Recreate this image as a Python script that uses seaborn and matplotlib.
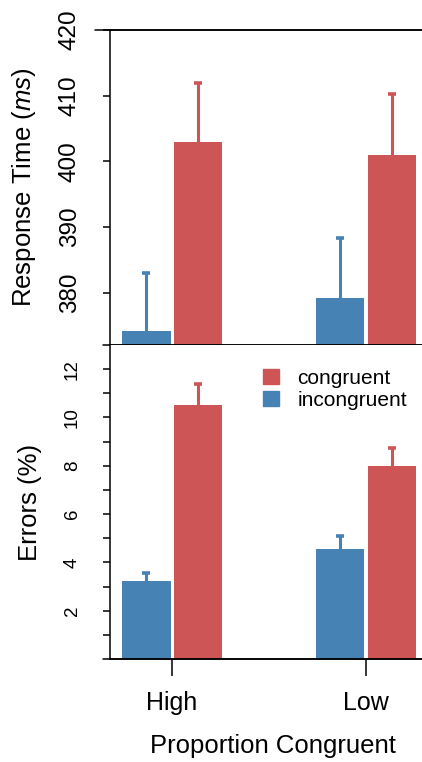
import pandas as pd
import numpy as np
from matplotlib import pyplot as plt
from matplotlib.patches import Patch
from matplotlib.lines import Line2D
import seaborn as sns

groups = ['High', 'Low']
conditions = ['incongruent', 'congruent']
colors = {'incongruent': '#4682B4', 'congruent': '#CD5555'}

# response time (ms), bar height and upper error
rt_incongruent = [374.1, 379.1]
rt_congruent = [403.0, 401.0]
rt_err_incongruent = [8.9, 9.2]
rt_err_congruent = [9.0, 9.3]

# errors (%)
er_incongruent = [3.22, 4.57]
er_congruent = [10.5, 8.0]
er_err_incongruent = [0.33, 0.54]
er_err_congruent = [0.89, 0.75]

sns.set_theme(style='white')
plt.rcParams['font.family'] = ['Liberation Sans', 'DejaVu Sans']
plt.rcParams['mathtext.fontset'] = 'custom'
plt.rcParams['mathtext.rm'] = 'Liberation Sans'
plt.rcParams['mathtext.it'] = 'Liberation Sans:italic'
for k in ['text.color', 'axes.labelcolor', 'xtick.color', 'ytick.color']:
    plt.rcParams[k] = 'black'


def make_df(inc, con):
    return pd.DataFrame({
        'group': groups * 2,
        'condition': ['incongruent'] * 2 + ['congruent'] * 2,
        'value': list(inc) + list(con),
    })


fig = plt.figure(figsize=(4.22, 7.62), dpi=100)
W = 325 / 422
ax1 = fig.add_axes([110 / 422, 1 - 345 / 762, W, 315 / 762])
ax2 = fig.add_axes([110 / 422, 1 - 659 / 762, W, 314 / 762])


def draw(ax, df, errs):
    sns.barplot(data=df, x='group', y='value', hue='condition', hue_order=conditions,
                palette=colors, width=0.53, gap=0.06, errorbar=None, saturation=1,
                linewidth=0, legend=False, ax=ax)
    for cont, cond in zip(ax.containers, conditions):
        for bar, e in zip(cont, errs[cond]):
            x = bar.get_x() + bar.get_width() / 2
            eb = ax.errorbar(x, bar.get_height(), yerr=[[0], [e]], color=colors[cond],
                             elinewidth=2.2, capsize=3, capthick=2.6, zorder=1)
            # keep only the upper cap
            caps = eb[1]
            for c in caps:
                if c.get_ydata()[0] <= bar.get_height() + 1e-9:
                    c.set_visible(False)
    ax.set_xlim(-0.32, 1.356)
    ax.set_xlabel('')
    ax.spines['right'].set_visible(False)
    for s in ax.spines.values():
        s.set_linewidth(1.1)
        s.set_color('black')
    ax.tick_params(axis='y', direction='out', length=5, width=1.1, labelrotation=90,
                   left=True, pad=16)


draw(ax1, make_df(rt_incongruent, rt_congruent),
     {'incongruent': rt_err_incongruent, 'congruent': rt_err_congruent})
ax1.set_ylim(372, 420)
ax1.set_yticks([380, 390, 400, 410, 420])
ax1.tick_params(axis='y', labelsize=17.5)
for lab in ax1.get_yticklabels():
    lab.set_va('center')
ax1.set_xticks([])
ax1.set_ylabel('Response Time ($\\mathit{ms}$)', fontsize=18.5)
ax1.yaxis.set_label_coords(-0.222, 0.5)
ax1.add_line(Line2D([-15 / 325, 1], [1, 1], transform=ax1.transAxes, color='black',
                    lw=1.1, clip_on=False))
ax1.add_line(Line2D([-7 / 325, 1], [0, 0], transform=ax1.transAxes, color='black',
                    lw=1.1, clip_on=False))

draw(ax2, make_df(er_incongruent, er_congruent),
     {'incongruent': er_err_incongruent, 'congruent': er_err_congruent})
ax2.spines['top'].set_visible(False)
ax2.set_ylim(0, 13)
ax2.set_yticks(range(1, 13))
ax2.set_yticklabels(['' if v % 2 else str(v) for v in range(1, 13)])
ax2.tick_params(axis='y', labelsize=13.5)
for lab in ax2.get_yticklabels():
    lab.set_va('center')
ax2.tick_params(axis='x', direction='out', length=12, width=1.1, bottom=True,
                labelsize=18, pad=11)
ax2.set_ylabel('Errors (%)', fontsize=18.5)
ax2.yaxis.set_label_coords(-0.21, 0.5)
ax2.set_xlabel('Proportion Congruent', fontsize=18.5, labelpad=14)
ax2.add_line(Line2D([-7 / 325, 1], [0, 0], transform=ax2.transAxes, color='black',
                    lw=1.1, clip_on=False))

handles = [Patch(color=colors['congruent'], label='congruent'),
           Patch(color=colors['incongruent'], label='incongruent')]
ax2.legend(handles=handles, loc='upper left', bbox_to_anchor=(153 / 325, 0.925),
           frameon=False, fontsize=15, handlelength=0.76, handleheight=0.76,
           handletextpad=0.9, labelspacing=0.15, borderpad=0, borderaxespad=0)

plt.savefig('out.png', dpi=100)
